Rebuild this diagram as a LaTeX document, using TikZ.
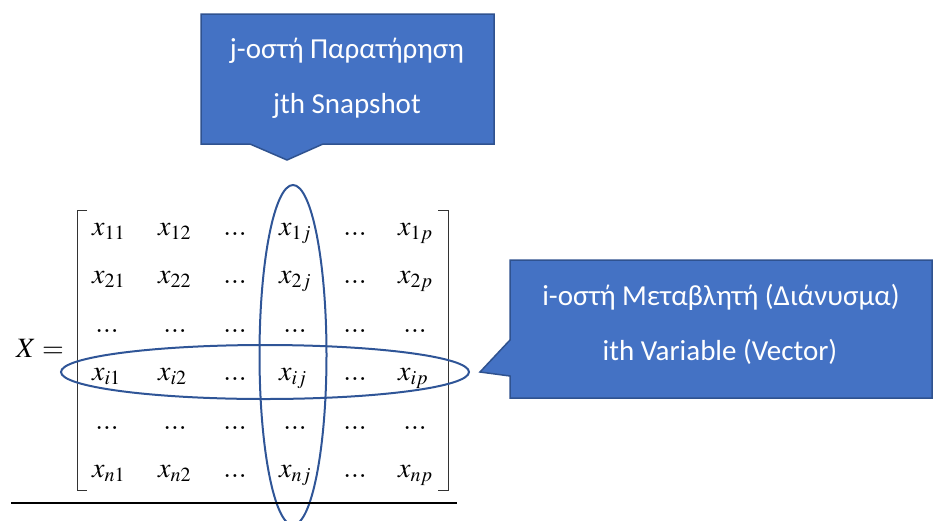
\documentclass[tikz,border=0pt]{standalone}
\usepackage{mathptmx}
\usepackage{fontspec}
\newfontfamily\calloutfont{Carlito}
\usepackage{xcolor}
\definecolor{officeBlue}{HTML}{4472C4}
\definecolor{officeEdge}{HTML}{2F528F}
\definecolor{ringBlue}{HTML}{2F5597}
\usepackage{tikz}
\usetikzlibrary{positioning}
\DeclareMathSizes{28}{28}{20}{15}
\newcommand{\matfont}{\fontsize{28}{33}\selectfont}

\begin{document}
\begin{tikzpicture}[x=1pt, y=-1pt,
    callout/.style={fill=officeBlue, draw=officeEdge, line width=1.5pt, line join=miter},
    callout text/.style={text=white, font=\calloutfont\fontsize{29}{35}\selectfont, anchor=base, inner sep=0pt},
    entry/.style={font=\matfont, anchor=base west, inner sep=0pt},
    dotentry/.style={font=\matfont, anchor=base, inner sep=0pt},
    ring/.style={draw=ringBlue, line width=2pt},
    bracket/.style={draw=black!80, line width=1pt}]

    \useasboundingbox (0,0) rectangle (936,520);
    \clip (0,0) rectangle (936,520);

    % --- Callout: jth snapshot ---
    \draw[callout] (201,14) -- (494,14) -- (494,144) -- (323,144) -- (287,160) -- (250,144) -- (201,144) -- cycle;
    \node[callout text] (snapGr) at (347,58) {j-οστή Παρατήρηση};
    \node[callout text] (snapEn) at (347,113) {jth Snapshot};

    % --- Callout: ith variable ---
    \draw[callout] (510,260) -- (932,260) -- (932,398) -- (510,398) -- (510,376) -- (480,372) -- (510,340) -- cycle;
    \node[callout text] (varGr) at (721,305) {i-οστή Μεταβλητή (Διάνυσμα)};
    \node[callout text] (varEn) at (720,360) {ith Variable (Vector)};

    % --- Matrix X ---
    \node[entry] (lhs) at (16,357) {$X =$};
    \draw[bracket] (87,210) -| (77,490) -- (87,490);
    \draw[bracket] (438,210) -| (448,490) -- (438,490);

    \foreach \s/\y in {1/235, 2/283, i/380, n/477} {
        \node[entry] (e-\s-1) at (92,\y) {$x_{\s 1}$};
        \node[entry] (e-\s-2) at (158,\y) {$x_{\s 2}$};
        \node[dotentry] (e-\s-3) at (235,\y) {$...$};
        \node[entry] (e-\s-j) at (279,\y) {$x_{\s j}$};
        \node[dotentry] (e-\s-5) at (355,\y) {$...$};
        \node[entry] (e-\s-p) at (398,\y) {$x_{\s p}$};
    }
    \foreach \r/\y in {3/332, 5/429}
        \foreach \c/\x in {1/107, 2/175, 3/235, 4/295, 5/355, 6/415}
            \node[dotentry] (d-\r-\c) at (\x,\y) {$...$};

    % --- Selected column and row ---
    \draw[ring] (293,355) ellipse [x radius=33.5pt, y radius=170pt];
    \draw[ring] (265,372) ellipse [x radius=204pt, y radius=27pt];

    % rule under the matrix
    \draw[line width=1.5pt] (11,503) -- (457,503);

\end{tikzpicture}
\end{document}
